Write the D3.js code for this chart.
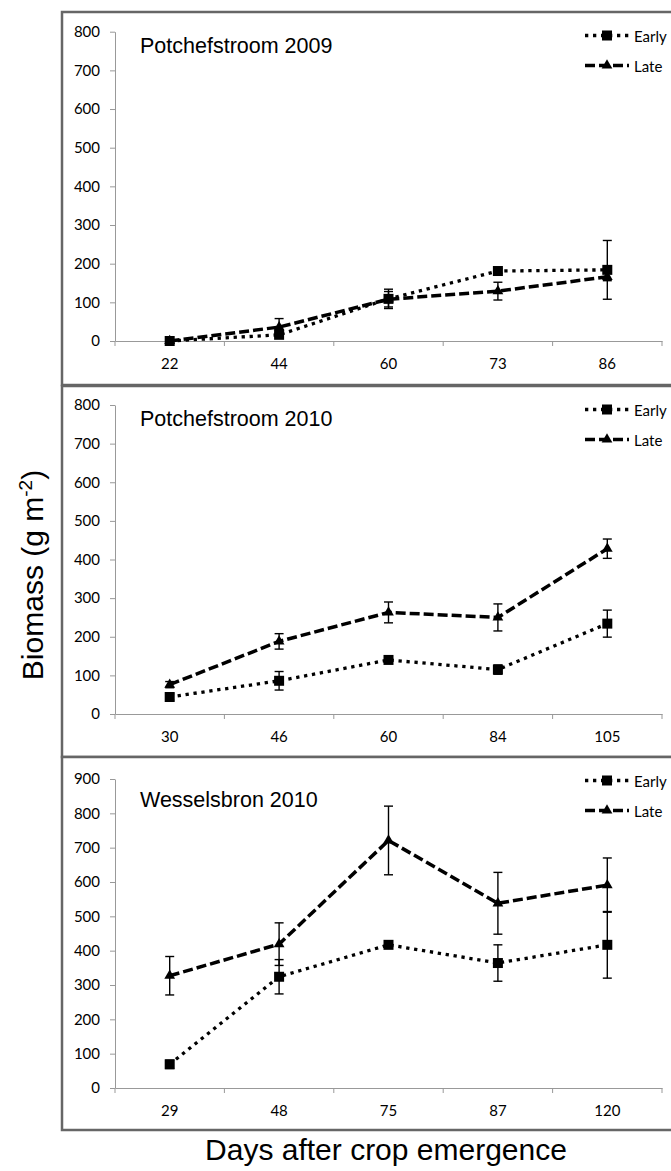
<!DOCTYPE html>
<html>
<head>
<meta charset="utf-8">
<script src="https://cdn.jsdelivr.net/npm/d3@7"></script>
<style>
body { margin: 0; background: #fff; }
svg { display: block; }
</style>
</head>
<body>
<svg width="671" height="1171"></svg>
<script>
// Potchefstroom 2009
var days2009 = ["22", "44", "60", "73", "86"];
var early2009 = [0, 16, 109, 181, 184];
var earlyErr2009 = [2, 5, 25, 6, 76];
var late2009 = [0, 36, 108, 129, 166];
var lateErr2009 = [2, 22, 20, 23, 10];

// Potchefstroom 2010
var days2010 = ["30", "46", "60", "84", "105"];
var early2010 = [44, 86, 140, 115, 234];
var earlyErr2010 = [8, 24, 8, 12, 35];
var late2010 = [76, 188, 263, 250, 428];
var lateErr2010 = [8, 20, 27, 35, 25];

// Wesselsbron 2010
var daysWes = ["29", "48", "75", "87", "120"];
var earlyWes = [69, 324, 417, 364, 417];
var earlyErrWes = [12, 50, 8, 53, 97];
var lateWes = [327, 419, 721, 538, 591];
var lateErrWes = [56, 62, 100, 90, 79];

var ticks800 = [0, 100, 200, 300, 400, 500, 600, 700, 800];
var ticks900 = [0, 100, 200, 300, 400, 500, 600, 700, 800, 900];

var titles = ["Potchefstroom 2009", "Potchefstroom 2010", "Wesselsbron 2010"];
var seriesNames = ["Early", "Late"];

var svg = d3.select("svg");
var tickFont = "Lato, 'Open Sans', sans-serif";
var mainFont = "'Liberation Sans', Arial, sans-serif";

var panels = [
    { title: titles[0], days: days2009, early: early2009, earlyErr: earlyErr2009, late: late2009, lateErr: lateErr2009,
      ticks: ticks800, top: 12, bottom: 385, yTop: 31.7, yZero: 341, titleY: 40.7 },
    { title: titles[1], days: days2010, early: early2010, earlyErr: earlyErr2010, late: late2010, lateErr: lateErr2010,
      ticks: ticks800, top: 386, bottom: 757, yTop: 405, yZero: 714, titleY: 40 },
    { title: titles[2], days: daysWes, early: earlyWes, earlyErr: earlyErrWes, late: lateWes, lateErr: lateErrWes,
      ticks: ticks900, top: 757, bottom: 1130, yTop: 779, yZero: 1088, titleY: 50 }
];

var styles = {
    Early: { dash: "3.3,4.7", width: 3.3 },
    Late: { dash: "10,4", width: 3.5 }
};

function drawMarker(g, name, cx, cy, s) {
    if (name === "Early") {
        g.append("rect")
            .attr("x", cx - s / 2).attr("y", cy - s / 2)
            .attr("width", s).attr("height", s)
            .attr("fill", "#000");
    } else {
        g.append("path")
            .attr("d", d3.symbol(d3.symbolTriangle).size(s * s * 0.5)())
            .attr("transform", "translate(" + cx + "," + cy + ")")
            .attr("fill", "#000");
    }
}

panels.forEach(function (p) {
    var g = svg.append("g");

    g.append("rect")
        .attr("x", 62).attr("y", p.top)
        .attr("width", 640).attr("height", p.bottom - p.top)
        .attr("fill", "#fff")
        .attr("stroke", "#666")
        .attr("stroke-width", 2.5);

    var x = d3.scaleBand().domain(p.days).range([115, 662]);
    var y = d3.scaleLinear().domain([0, d3.max(p.ticks)]).range([p.yZero, p.yTop]);
    var bw = x.bandwidth();

    // y axis
    var ya = g.append("g")
        .attr("transform", "translate(115,0)")
        .call(d3.axisLeft(y).tickValues(p.ticks).tickSize(5).tickSizeOuter(0).tickPadding(10));
    ya.selectAll("path, line").attr("stroke", "#999");
    ya.selectAll("text").attr("font-family", tickFont).attr("font-size", 15).attr("fill", "#000");

    // x axis
    var xa = g.append("g")
        .attr("transform", "translate(0," + p.yZero + ")")
        .call(d3.axisBottom(x).tickSize(0).tickSizeOuter(0).tickPadding(17));
    xa.selectAll("path").attr("stroke", "#999");
    xa.selectAll("text").attr("font-family", tickFont).attr("font-size", 15).attr("fill", "#000");
    var bounds = p.days.map(function (d) { return x(d); }).concat([x.range()[1]]);
    xa.selectAll(".bound").data(bounds).enter().append("line")
        .attr("x1", function (d) { return d; }).attr("x2", function (d) { return d; })
        .attr("y1", 0).attr("y2", 5)
        .attr("stroke", "#999");

    // title
    g.append("text")
        .attr("x", 140).attr("y", p.top + p.titleY)
        .attr("font-family", mainFont).attr("font-size", 21.5)
        .attr("fill", "#000")
        .text(p.title);

    var series = [
        { name: "Early", values: p.early, errs: p.earlyErr },
        { name: "Late", values: p.late, errs: p.lateErr }
    ];

    var line = d3.line()
        .x(function (d, i) { return x(p.days[i]) + bw / 2; })
        .y(function (d) { return y(d); });

    series.forEach(function (s) {
        var sg = g.append("g");
        sg.append("path")
            .attr("d", line(s.values))
            .attr("fill", "none")
            .attr("stroke", "#000")
            .attr("stroke-width", styles[s.name].width)
            .attr("stroke-dasharray", styles[s.name].dash);

        s.values.forEach(function (v, i) {
            var cx = x(p.days[i]) + bw / 2;
            var y0 = y(v - s.errs[i]), y1 = y(v + s.errs[i]);
            sg.append("line").attr("x1", cx).attr("x2", cx).attr("y1", y0).attr("y2", y1)
                .attr("stroke", "#000").attr("stroke-width", 1.4);
            [y0, y1].forEach(function (yy) {
                sg.append("line").attr("x1", cx - 4.5).attr("x2", cx + 4.5).attr("y1", yy).attr("y2", yy)
                    .attr("stroke", "#000").attr("stroke-width", 1.4);
            });
            drawMarker(sg, s.name, cx, y(v), 10);
        });
    });

    // legend
    seriesNames.forEach(function (name, i) {
        var ly = p.top + 23.5 + i * 30;
        var lg = g.append("g");
        lg.append("line")
            .attr("x1", 585).attr("x2", 629).attr("y1", ly).attr("y2", ly)
            .attr("stroke", "#000")
            .attr("stroke-width", styles[name].width)
            .attr("stroke-dasharray", styles[name].dash);
        drawMarker(lg, name, 607, ly, 10);
        lg.append("text")
            .attr("x", 634).attr("y", ly + 6)
            .attr("font-family", tickFont).attr("font-size", 15)
            .attr("fill", "#000")
            .text(name);
    });
});

// axis titles
var yl = svg.append("text")
    .attr("transform", "translate(43,575) rotate(-90)")
    .attr("text-anchor", "middle")
    .attr("font-family", mainFont).attr("font-size", 30)
    .attr("fill", "#000");
yl.append("tspan").text("Biomass (g m");
yl.append("tspan").attr("font-size", 19).attr("dy", -11).text("-2");
yl.append("tspan").attr("dy", 11).text(")");

svg.append("text")
    .attr("x", 386).attr("y", 1160)
    .attr("text-anchor", "middle")
    .attr("font-family", mainFont).attr("font-size", 30)
    .attr("fill", "#000")
    .text("Days after crop emergence");
</script>
</body>
</html>
